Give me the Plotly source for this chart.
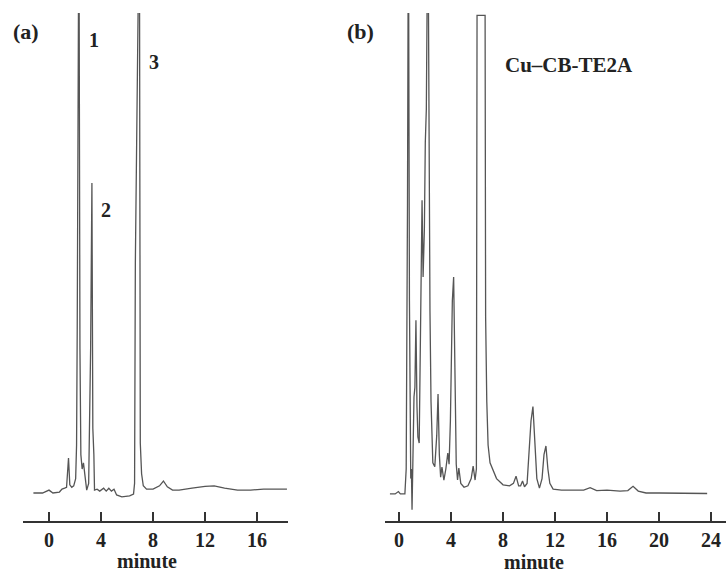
import plotly.graph_objects as go

# ---------------- data (time in minutes, detector signal in arbitrary units) -------------
time_a = [-1.2, -0.5, 0.0, 0.3, 0.8, 1.0, 1.2, 1.35, 1.5, 1.6, 1.75, 1.9, 2.05, 2.12, 2.17,
          2.22, 2.3, 2.38, 2.45, 2.55, 2.65, 2.75, 2.9, 3.05, 3.2, 3.3, 3.37, 3.45, 3.5,
          3.7, 3.9, 4.2, 4.4, 4.6, 4.8, 5.0, 5.2, 5.6, 6.2, 6.5, 6.58, 6.64, 6.72, 6.8,
          6.9, 6.95, 7.02, 7.12, 7.25, 7.5, 8.0, 8.5, 8.8, 9.1, 9.5, 10.0, 11.0, 12.0,
          12.7, 13.5, 14.5, 15.5, 16.5, 17.5, 18.3]
signal_a = [0.0, 0.0, 0.6, 0.0, 0.2, 0.8, 1.0, 1.2, 7.3, 1.7, 1.2, 1.5, 3.0, 10.0, 34.0,
            81.0, 125.0, 30.0, 8.0, 5.0, 6.3, 4.0, 0.6, 2.0, 30.0, 64.6, 13.5, 8.0, 0.6,
            0.8, 0.4, 1.0, 0.4, 1.0, 0.4, 0.8, -0.4, -0.8, -0.6, -0.2, 2.0, 48.0, 71.0, 89.6,
            125.0, 125.0, 10.4, 4.0, 1.5, 0.8, 0.8, 1.5, 2.5, 1.3, 0.6, 0.6, 1.0, 1.4,
            1.5, 1.0, 0.6, 0.6, 0.8, 0.8, 0.8]

time_b = [-0.7, -0.3, -0.05, 0.1, 0.45, 0.55, 0.65, 0.72, 0.8, 0.9, 0.95, 1.0, 1.07, 1.15,
          1.22, 1.3, 1.38, 1.45, 1.55, 1.65, 1.77, 1.85, 1.95, 2.02, 2.1, 2.22, 2.3, 2.38,
          2.46, 2.6, 2.75, 2.9, 3.0, 3.1, 3.2, 3.3, 3.45, 3.6, 3.75, 3.85, 3.95, 4.1, 4.2,
          4.3, 4.4, 4.5, 4.6, 4.75, 5.0, 5.3, 5.55, 5.7, 5.85, 5.95, 6.0, 6.62, 6.66, 6.75,
          6.85, 7.0, 7.2, 7.5, 8.0, 8.5, 8.8, 9.0, 9.2, 9.35, 9.5, 9.65, 9.85, 10.0, 10.15,
          10.3, 10.45, 10.6, 10.8, 11.0, 11.15, 11.3, 11.45, 11.6, 11.85, 12.5, 13.5, 14.2,
          14.7, 15.2, 16.0, 17.0, 17.6, 18.0, 18.4, 19.0, 20.0, 22.0, 23.7]
signal_b = [-0.2, -0.2, 0.3, -0.2, -0.2, 5.0, 60.0, 125.0, 40.0, 3.0, 5.0, -3.5, 10.0, 20.0,
            22.0, 36.0, 18.0, 11.7, 10.4, 30.0, 61.0, 45.0, 55.0, 73.0, 80.0, 125.0, 60.0, 37.7,
            19.0, 6.3, 5.5, 12.0, 20.6, 8.0, 3.3, 5.4, 2.7, 5.0, 8.3, 6.0, 15.0, 40.0, 45.0,
            20.0, 6.0, 2.7, 5.2, 2.0, 1.2, 1.5, 3.0, 5.6, 2.7, 5.0, 99.5, 99.5, 36.7, 19.0,
            10.0, 6.3, 4.8, 3.0, 1.7, 1.5, 2.0, 3.5, 1.5, 1.5, 2.5, 1.3, 2.0, 8.0, 15.0,
            18.0, 10.0, 3.0, 1.0, 3.0, 8.0, 9.8, 5.0, 2.0, 0.8, 0.6, 0.6, 0.6,
            1.1, 0.5, 0.6, 0.4, 0.5, 1.4, 0.4, 0.0, 0.0, 0.0, -0.1]

ticks_a = [0, 4, 8, 12, 16]
ticks_b = [0, 4, 8, 12, 16, 20, 24]
peak_labels = ["1", "2", "3"]
panel_labels = ["(a)", "(b)"]
compound = "Cu\u2013CB-TE2A"
x_title = "minute"

# ---------------- figure -------------
W, H = 726, 574
line_col = "#555555"
serif = "Liberation Serif, Times New Roman, serif"

fig = go.Figure()
fig.add_trace(go.Scatter(x=time_a, y=signal_a, mode="lines", xaxis="x", yaxis="y",
                         line=dict(color=line_col, width=1.3), showlegend=False))
fig.add_trace(go.Scatter(x=time_b, y=signal_b, mode="lines", xaxis="x2", yaxis="y2",
                         line=dict(color=line_col, width=1.3), showlegend=False))

ydom = [(574 - 520.7) / 574, (574 - 13) / 574]
yrange = [-5.77, 100]

xcommon = dict(showgrid=False, zeroline=False, showline=True, linecolor="#333333",
               linewidth=2, ticks="inside", ticklen=9, tickwidth=2, tickcolor="#333333",
               tickfont=dict(family=serif, size=20, color="#222222", weight="bold"),
               ticklabelstandoff=0, fixedrange=True)

fig.update_layout(
    width=W, height=H, autosize=False,
    margin=dict(l=0, r=0, t=0, b=0),
    paper_bgcolor="white", plot_bgcolor="white",
    xaxis=dict(domain=[23 / W, 288 / W], range=[-2.0, 18.38], tickvals=ticks_a,
               anchor="y", **xcommon),
    xaxis2=dict(domain=[385 / W, 1.0], range=[-1.08, 25.15], tickvals=ticks_b,
                anchor="y2", **xcommon),
    yaxis=dict(domain=ydom, range=yrange, visible=False, anchor="x", fixedrange=True),
    yaxis2=dict(domain=ydom, range=yrange, visible=False, anchor="x2", fixedrange=True),
)

def ann(text, px, py, size):
    fig.add_annotation(text=text, x=px / W, y=1 - py / H, xref="paper", yref="paper",
                       showarrow=False, xanchor="center", yanchor="middle",
                       font=dict(family=serif, size=size, color="#222222", weight="bold"))

ann(panel_labels[0], 26, 31, 22)
ann(panel_labels[1], 360, 31, 22)
ann(peak_labels[0], 94, 40, 20)
ann(peak_labels[1], 106, 210, 20)
ann(peak_labels[2], 154, 62, 20)
ann(compound, 569, 65, 21)
ann(x_title, 147, 561, 20)
ann(x_title, 534, 562, 20)

fig.write_html("out.html", config={"displayModeBar": False},
               post_script="document.body.style.margin='0';document.body.style.padding='0';"
                           "document.documentElement.style.overflow='hidden';")
